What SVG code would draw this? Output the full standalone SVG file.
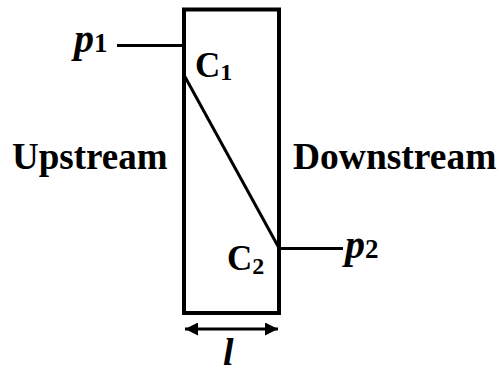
<svg xmlns="http://www.w3.org/2000/svg" width="499" height="373" viewBox="0 0 499 373">
<defs>
<style>
.ln{stroke:#000;stroke-width:3;fill:none}
.bx{stroke:#000;stroke-width:4;fill:#fff}
.t{font-family:"Liberation Serif","Times New Roman",serif;font-weight:bold;fill:#000}
.it{font-style:italic}
</style>
<marker id="ah" viewBox="0 0 10 10" refX="10" refY="5" markerWidth="15" markerHeight="13" markerUnits="userSpaceOnUse" orient="auto-start-reverse">
<path d="M0,0 L10,5 L0,10 z" fill="#000"/>
</marker>
</defs>
<g id="channel">
<rect class="bx" x="184" y="9.5" width="95" height="303.5"/>
</g>
<g id="connectors">
<line class="ln" x1="117" y1="45.5" x2="184" y2="45.5"/>
<line class="ln" x1="184" y1="75" x2="279" y2="248"/>
<line class="ln" x1="279" y1="248.5" x2="343" y2="248.5"/>
<line class="ln" x1="185" y1="329" x2="278" y2="329" marker-start="url(#ah)" marker-end="url(#ah)"/>
</g>
<g id="p1"><text class="t" x="74" y="52" font-size="40"><tspan class="it">p</tspan><tspan font-size="27">1</tspan></text></g>
<g id="C1"><text class="t" x="195" y="77" font-size="35">C<tspan font-size="24" dy="3">1</tspan></text></g>
<g id="upstream"><text class="t" x="12" y="169" font-size="37">Upstream</text></g>
<g id="downstream"><text class="t" x="293" y="169" font-size="37.5">Downstream</text></g>
<g id="C2"><text class="t" x="227" y="270" font-size="35">C<tspan font-size="24" dy="4">2</tspan></text></g>
<g id="p2"><text class="t" x="345" y="258" font-size="40"><tspan class="it">p</tspan><tspan font-size="27">2</tspan></text></g>
<g id="l"><text class="t it" x="223" y="365" font-size="38">l</text></g>
</svg>
